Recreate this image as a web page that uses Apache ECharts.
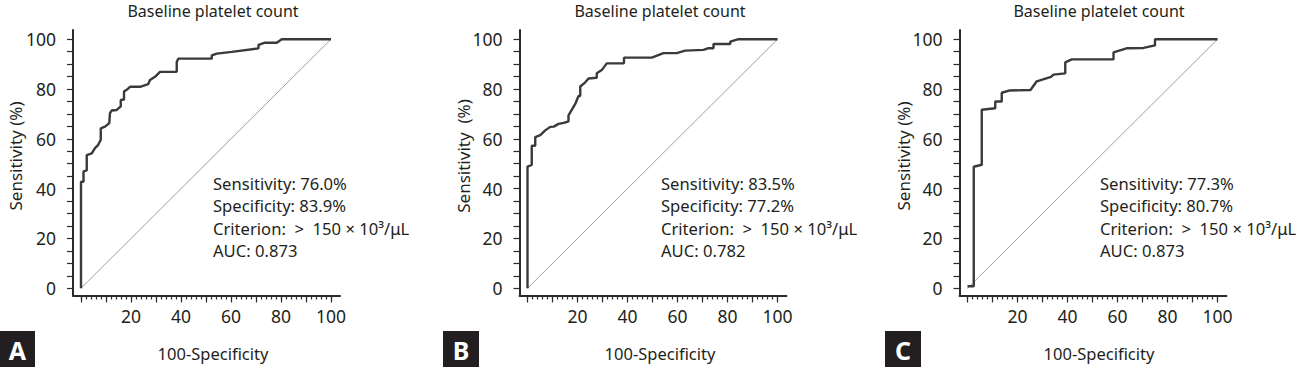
<!DOCTYPE html>
<html>
<head>
<meta charset="utf-8">
<script src="https://cdn.jsdelivr.net/npm/echarts@6/dist/echarts.min.js"></script>
<style>
  html, body { margin: 0; padding: 0; background: #ffffff; }
  #chart { width: 1298px; height: 367px; }
</style>
</head>
<body>
<div id="chart"></div>
<script>
// ---------- DATA ----------
const panelLetters = ['A', 'B', 'C'];
const panelTitle = 'Baseline platelet count';
const xAxisName = '100-Specificity';
const yAxisNames = ['Sensitivity (%)', 'Sensitivity  (%)', 'Sensitivity (%)'];
const xTickLabels = [20, 40, 60, 80, 100];
const yTickLabels = [0, 20, 40, 60, 80, 100];
const diagonal = [0, 100];

// Panel A ROC curve (100-Specificity, Sensitivity)
const fprA = [0, 0, 1.0, 1.0, 2.3, 2.3, 4.3, 5.6, 6.9, 7.9, 7.9, 9.6, 11.3, 11.6, 12.3, 14.3, 15.9, 15.9, 17.2, 17.2, 18.4, 19.6, 23.6, 26.9, 27.6, 29.6, 31.6, 38.3, 38.3, 38.9, 52.3, 52.3, 54.3, 60.3, 71.0, 71.0, 73.6, 78.3, 80.3, 100];
const tprA = [0, 42.8, 42.8, 46.9, 47.3, 53.5, 54.2, 56.3, 57.6, 59.6, 64.2, 64.9, 66.3, 70.3, 71.4, 71.6, 73.0, 75.6, 75.8, 79.0, 79.8, 80.9, 80.9, 82.0, 83.6, 84.9, 86.9, 86.9, 90.9, 92.2, 92.2, 93.5, 94.2, 94.9, 96.3, 97.7, 98.6, 98.6, 100, 100];

// Panel B ROC curve
const fprB = [0, 0, 1.7, 1.7, 3.1, 3.1, 5.1, 7.1, 9.1, 10.5, 12.4, 14.5, 16.4, 16.4, 19.1, 20.4, 21.1, 21.1, 23.1, 24.4, 27.7, 27.7, 29.7, 31.7, 38.6, 38.6, 49.7, 54.4, 59.7, 63.1, 70.4, 72.4, 74.4, 74.4, 81.1, 81.1, 84.4, 100];
const tprB = [0, 48.8, 49.5, 57.2, 57.2, 60.7, 61.5, 63.4, 64.8, 64.9, 66.0, 66.4, 67.0, 69.4, 74.0, 77.2, 77.2, 81.0, 82.7, 84.2, 84.5, 86.3, 87.6, 90.3, 90.3, 92.6, 92.6, 94.4, 94.4, 95.4, 95.7, 96.4, 96.4, 98.1, 98.1, 99.0, 100, 100];

// Panel C ROC curve
const fprC = [0, 2.5, 2.5, 5.7, 5.7, 11.1, 11.1, 13.7, 13.7, 16.6, 25.2, 27.7, 33.4, 34.4, 39.1, 39.1, 41.7, 58.4, 58.4, 63.9, 70.4, 75.0, 75.0, 100];
const tprC = [0.8, 0.8, 48.8, 49.6, 71.7, 72.3, 75.0, 75.0, 78.5, 79.4, 79.6, 83.1, 84.9, 85.8, 86.3, 90.7, 91.9, 91.9, 94.7, 96.4, 96.5, 97.5, 100, 100];

const statsA = ['Sensitivity: 76.0%', 'Specificity: 83.9%', 'Criterion:  >  150 × 10³/μL', 'AUC: 0.873'];
const statsB = ['Sensitivity: 83.5%', 'Specificity: 77.2%', 'Criterion:  >  150 × 10³/μL', 'AUC: 0.782'];
const statsC = ['Sensitivity: 77.3%', 'Specificity: 80.7%', 'Criterion:  >  150 × 10³/μL', 'AUC: 0.873'];

// ---------- LAYOUT ----------
const FONT = '"Noto Sans", "Open Sans", sans-serif';
const TXT = '#231f20';
const AX = '#2b2b2b';
const xMin = -3.2, xMax = 103.6, yMin = -2.9, yMax = 103.7;
const panels = [
  { fpr: fprA, tpr: tprA, stats: statsA, gridLeft: 73,    cx: 213,  yNameX: 15.5, statX: 213 },
  { fpr: fprB, tpr: tprB, stats: statsB, gridLeft: 519.5, cx: 660,  yNameX: 463,  statX: 661 },
  { fpr: fprC, tpr: tprC, stats: statsC, gridLeft: 959.5, cx: 1099, yNameX: 903,  statX: 1100 }
];
const boxes = [{ x: 0, w: 35 }, { x: 443, w: 36 }, { x: 885, w: 36 }];

const minorX = []; for (let v = 0; v <= 100; v += 2) minorX.push(v);
const majorX = []; for (let v = 0; v <= 100; v += 10) majorX.push(v);
const yTicks = []; for (let v = 0; v <= 100; v += 5) yTicks.push(v);

const grid = [], xAxis = [], yAxis = [], series = [], graphic = [];
panels.forEach((p, i) => {
  grid.push({ left: p.gridLeft, top: 30, width: 267, height: 265.5 });
  xAxis.push({
    gridIndex: i, type: 'value', position: 'bottom', min: xMin, max: xMax,
    axisLine: { show: true, onZero: false, lineStyle: { color: AX, width: 2 } },
    axisTick: { show: true, customValues: minorX, length: 4, lineStyle: { color: AX, width: 1.2 } },
    axisLabel: { show: false }, splitLine: { show: false }
  });
  xAxis.push({
    gridIndex: i, type: 'value', position: 'bottom', min: xMin, max: xMax,
    axisLine: { show: false, onZero: false },
    axisTick: { show: true, customValues: majorX, length: 7, lineStyle: { color: AX, width: 1.2 } },
    axisLabel: { show: true, customValues: xTickLabels, fontSize: 17.5, color: TXT, fontFamily: FONT, margin: 11 },
    splitLine: { show: false }
  });
  yAxis.push({
    gridIndex: i, type: 'value', min: yMin, max: yMax,
    axisLine: { show: true, onZero: false, lineStyle: { color: AX, width: 2 } },
    axisTick: { show: true, customValues: yTicks, length: 6, lineStyle: { color: AX, width: 1.2 } },
    axisLabel: { show: true, customValues: yTickLabels, fontSize: 17.5, color: TXT, fontFamily: FONT, margin: 17 },
    splitLine: { show: false }
  });
  series.push({
    type: 'line', xAxisIndex: 2 * i, yAxisIndex: i, silent: true,
    data: [[diagonal[0], diagonal[0]], [diagonal[1], diagonal[1]]],
    showSymbol: false, lineStyle: { color: '#a0a0a0', width: 1 }, z: 2
  });
  series.push({
    type: 'line', xAxisIndex: 2 * i, yAxisIndex: i, silent: true,
    data: p.fpr.map((x, k) => [x, p.tpr[k]]),
    showSymbol: false, lineStyle: { color: '#3a3a3a', width: 2.4 }, z: 3
  });
  graphic.push({ type: 'text', x: p.cx, y: 11, style: { text: panelTitle, fill: TXT, font: '16px ' + FONT, textAlign: 'center', textVerticalAlign: 'middle' } });
  graphic.push({ type: 'text', x: p.cx, y: 353, style: { text: xAxisName, fill: TXT, font: '16.5px ' + FONT, textAlign: 'center', textVerticalAlign: 'middle' } });
  graphic.push({ type: 'text', x: p.yNameX, y: 156, rotation: Math.PI / 2, style: { text: yAxisNames[i], fill: TXT, font: '17px ' + FONT, textAlign: 'center', textVerticalAlign: 'middle' } });
  p.stats.forEach((s, k) => {
    graphic.push({ type: 'text', x: p.statX, y: 183 + k * 22.6, style: { text: s, fill: TXT, font: '16.6px ' + FONT, textAlign: 'left', textVerticalAlign: 'middle' } });
  });
  graphic.push({ type: 'rect', shape: { x: boxes[i].x, y: 331, width: boxes[i].w, height: 36 }, style: { fill: '#231f20' } });
  graphic.push({ type: 'text', x: boxes[i].x + boxes[i].w / 2, y: 349.5, style: { text: panelLetters[i], fill: '#ffffff', font: 'bold 25px ' + FONT, textAlign: 'center', textVerticalAlign: 'middle' } });
});

const chart = echarts.init(document.getElementById('chart'), null, { renderer: 'svg', width: 1298, height: 367 });
chart.setOption({
  animation: false,
  backgroundColor: '#ffffff',
  grid, xAxis, yAxis, series, graphic
});
</script>
</body>
</html>
